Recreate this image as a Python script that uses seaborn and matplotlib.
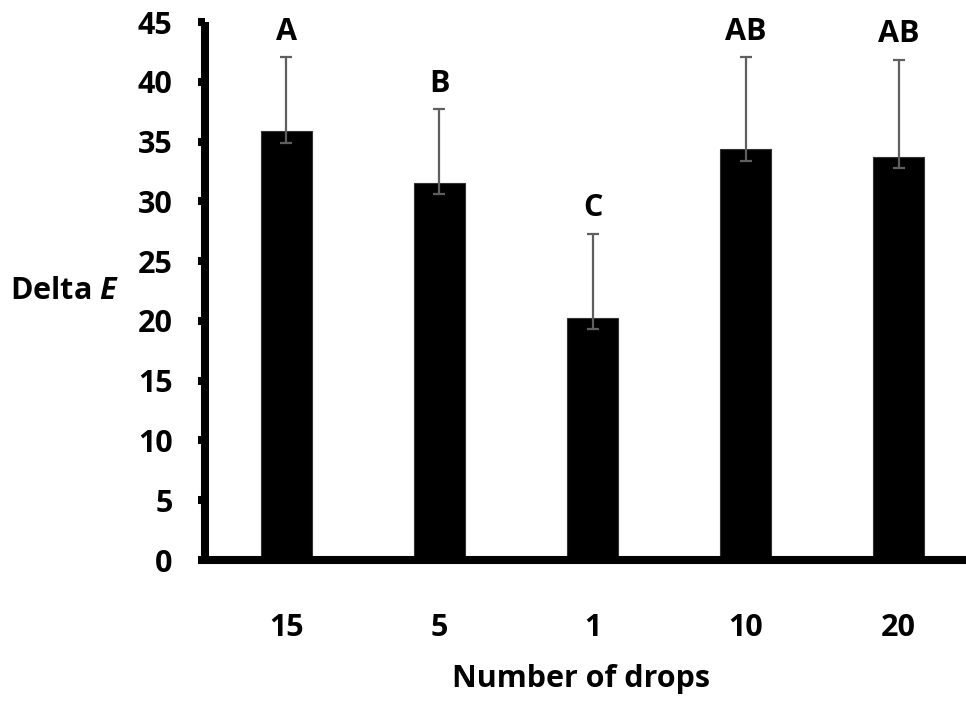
import matplotlib
matplotlib.use("Agg")
import matplotlib.pyplot as plt
import seaborn as sns
import pandas as pd
import numpy as np

# ---- data ----
drops = ["15", "5", "1", "10", "20"]
delta_e = [35.85, 31.55, 20.25, 34.4, 33.7]
err_upper = [6.2, 6.15, 7.05, 7.65, 8.1]
err_lower = [0.95, 0.95, 0.95, 1.0, 0.95]
letters = ["A", "B", "C", "AB", "AB"]
yticks = [0, 5, 10, 15, 20, 25, 30, 35, 40, 45]

sns.set_style("white")
plt.rcParams["font.family"] = ["Open Sans", "DejaVu Sans"]
plt.rcParams["mathtext.fontset"] = "custom"
plt.rcParams["mathtext.it"] = "Open Sans:italic:bold"
plt.rcParams["mathtext.rm"] = "Open Sans:bold"
for k in ["text.color", "axes.labelcolor", "xtick.color", "ytick.color"]:
    plt.rcParams[k] = "black"

FS = 22
W, H = 966, 704
fig = plt.figure(figsize=(W / 100, H / 100), dpi=100)
left, right, bottom, top = 204.5, 966, 560, 22
ax = fig.add_axes([left / W, 1 - bottom / H, (right - left) / W, (bottom - top) / H])

df = pd.DataFrame({"drops": drops, "delta": delta_e})
sns.barplot(data=df, x="drops", y="delta", order=drops, color="black",
            width=0.333, errorbar=None, ax=ax, saturation=1, edgecolor="#333333", linewidth=0.8)

xs = np.arange(len(drops))
ax.errorbar(xs, delta_e, yerr=[err_lower, err_upper], fmt="none",
            ecolor="#5f5f5f", elinewidth=1.6, capsize=4.3, capthick=1.6, zorder=5)

for x, v, e, lab in zip(xs, delta_e, err_upper, letters):
    ax.text(x, v + e + 0.9, lab, ha="center", va="bottom",
            fontsize=FS, fontweight="bold", color="black")

ax.set_ylim(0, 45)
ax.set_xlim(-0.535, 4.44)
ax.set_yticks(yticks)
ax.set_yticklabels([str(t) for t in yticks], fontsize=FS, fontweight="bold", color="black")
ax.set_xticks(xs)
ax.set_xticklabels(drops, fontsize=FS, fontweight="bold", color="black")

for s in ["top", "right"]:
    ax.spines[s].set_visible(False)
for s in ["left", "bottom"]:
    ax.spines[s].set_linewidth(5.8)
    ax.spines[s].set_color("black")
    ax.spines[s].set_capstyle("butt")

ax.tick_params(axis="y", direction="out", length=5, width=5.8, pad=18, colors="black", left=True)
ax.tick_params(axis="x", length=0, pad=38, colors="black")

ax.set_xlabel("Number of drops", fontsize=FS, fontweight="bold", color="black")
ax.xaxis.set_label_coords(0.494, -0.193)
ax.set_ylabel(r"Delta $\mathit{E}$", fontsize=FS, fontweight="bold", rotation=0,
              ha="left", va="center", color="black")
ax.yaxis.set_label_coords(-0.2554, 0.5)

fig.savefig("out.png", dpi=100)
